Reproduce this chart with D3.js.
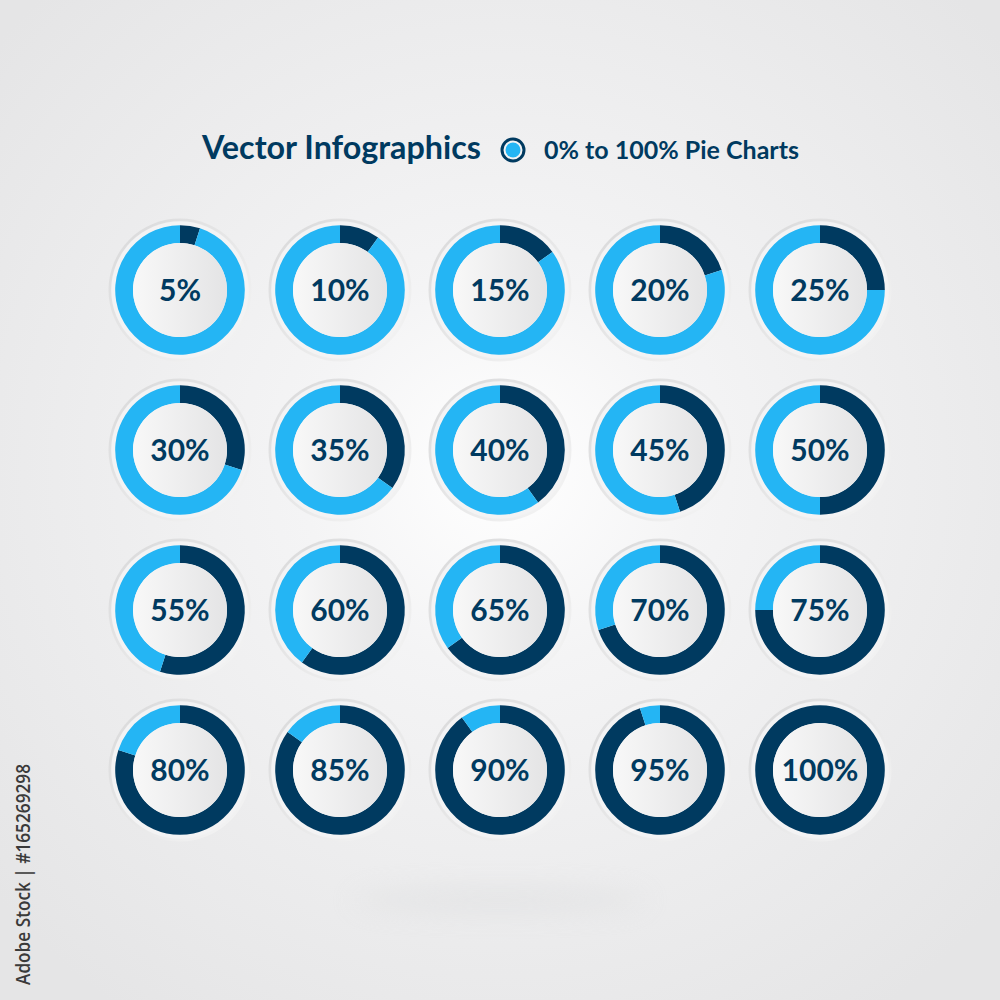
<!DOCTYPE html>
<html><head><meta charset="utf-8">
<style>html,body{margin:0;padding:0;background:#fff}svg{display:block}text{font-family:Lato,sans-serif}</style>
<script src="https://cdnjs.cloudflare.com/ajax/libs/d3/7.8.5/d3.min.js"></script>
</head><body><svg id="c" width="1000" height="1000"></svg>
<script>
const percents=[5,10,15,20,25,30,35,40,45,50,55,60,65,70,75,80,85,90,95,100];
const titleMain="Vector Infographics";
const titleSub="0% to 100% Pie Charts";
const stockLabel="Adobe Stock | #165269298";
const columns=[0,1,2,3,4];
const rows=[0,1,2,3];
const DARK="#003a60",LIGHT="#24b5f4";

const svg=d3.select("#c");
const defs=svg.append("defs");
const bg=defs.append("radialGradient").attr("id","bg").attr("gradientUnits","userSpaceOnUse")
  .attr("cx",500).attr("cy",470).attr("r",660);
bg.append("stop").attr("offset",0).attr("stop-color","#ffffff");
bg.append("stop").attr("offset",.3).attr("stop-color","#f4f4f5");
bg.append("stop").attr("offset",1).attr("stop-color","#e5e5e6");
const face=defs.append("linearGradient").attr("id","face");
face.append("stop").attr("offset",0).attr("stop-color","#f8f8f8");
face.append("stop").attr("offset",1).attr("stop-color","#e4e4e5");
const rim=defs.append("linearGradient").attr("id","rim").attr("x1",0).attr("y1",0).attr("x2",1).attr("y2",1);
rim.append("stop").attr("offset",0).attr("stop-color","#d8d8d9");
rim.append("stop").attr("offset",1).attr("stop-color","#f6f6f6");
defs.append("filter").attr("id","blur").attr("x","-50%").attr("y","-200%").attr("width","200%").attr("height","500%")
  .append("feGaussianBlur").attr("stdDeviation",14);

svg.append("rect").attr("width",1000).attr("height",1000).attr("fill","url(#bg)");
svg.append("ellipse").attr("cx",500).attr("cy",900).attr("rx",150).attr("ry",12)
  .attr("fill","#d8d9da").attr("opacity",.45).attr("filter","url(#blur)");

// Title row
svg.append("text").attr("x",202).attr("y",159).attr("font-size",32).attr("font-weight",700)
  .attr("fill",DARK).attr("textLength",279).attr("lengthAdjust","spacingAndGlyphs").text(titleMain);
svg.append("circle").attr("cx",513).attr("cy",150).attr("r",11).attr("fill","#f3f3f4").attr("stroke",DARK).attr("stroke-width",3);
svg.append("circle").attr("cx",513).attr("cy",150).attr("r",7.5).attr("fill",LIGHT);
svg.append("text").attr("x",544).attr("y",159).attr("font-size",25).attr("font-weight",700)
  .attr("fill",DARK).attr("textLength",255).attr("lengthAdjust","spacingAndGlyphs").text(titleSub);

svg.append("text").attr("transform","translate(30,985) rotate(-90)").attr("font-size",20)
  .attr("style","font-family:'Open Sans',sans-serif")
  .attr("font-weight",600).attr("fill","#3a3a3a").attr("textLength",221).attr("lengthAdjust","spacingAndGlyphs").text(stockLabel);

// Scales
const x=d3.scalePoint().domain(columns).range([180,820]);
const y=d3.scalePoint().domain(rows).range([290,770]);
const pie=d3.pie().sort(null).value(d=>d);
const arc=d3.arc().innerRadius(47).outerRadius(64.8);

const cells=svg.selectAll("g.cell").data(percents).join("g").attr("class","cell")
  .attr("transform",(d,i)=>`translate(${x(i%5)},${y(Math.floor(i/5))})`);
cells.append("circle").attr("r",71.5).attr("fill","url(#rim)");
cells.append("circle").attr("r",68.8).attr("fill","#f3f3f4");
cells.selectAll("path").data(d=>pie([d,100-d])).join("path")
  .attr("d",arc).attr("fill",(d,i)=>i===0?DARK:LIGHT);
cells.append("circle").attr("r",47).attr("fill","url(#face)");
cells.append("text").attr("text-anchor","middle").attr("y",10.5).attr("font-size",30).attr("font-weight",700)
  .attr("fill",DARK).text(d=>d+"%");
</script></body></html>
